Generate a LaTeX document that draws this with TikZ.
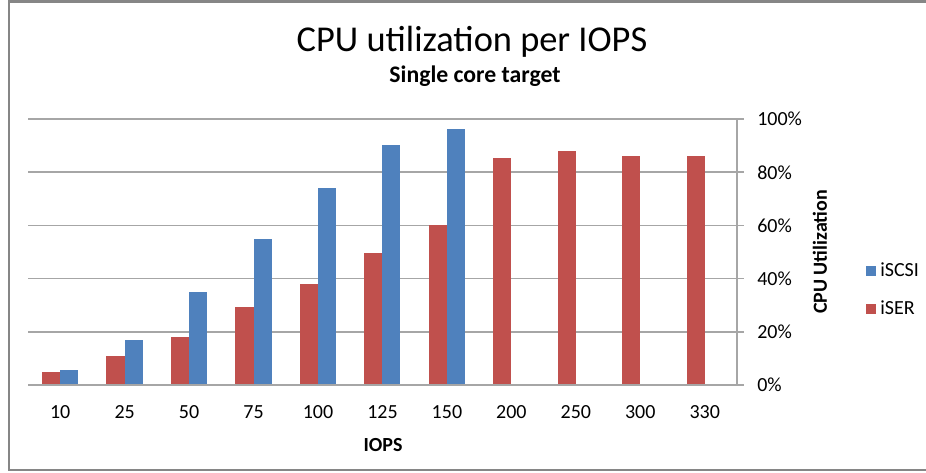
\documentclass[tikz,border=0pt]{standalone}
\usepackage{fontspec}
\setmainfont{Carlito}
\definecolor{iscsi}{HTML}{4F81BD}
\definecolor{iser}{HTML}{C0504D}
\definecolor{gridgray}{HTML}{A6A6A6}
\definecolor{framegray}{HTML}{868686}

\begin{document}
\begin{tikzpicture}[x=0.75pt,y=0.75pt,every node/.style={font=\fontsize{15}{18}\selectfont, inner sep=0pt},
    gridline/.style={gridgray, line width=1.1pt},
    keybox/.style={minimum size=7.5pt}]
    \useasboundingbox (0,0) rectangle (926,472);
    \draw[framegray, line width=1.6pt] (9,2) rectangle (935,470.5);
    % gridlines with the percent ticks on the right
    \foreach \k in {0,...,5} {
        \pgfmathsetmacro{\yy}{87+53.2*\k}
        \draw[gridline] (28,\yy) -- (744,\yy);
        \node[anchor=base west] (yt\k) at (757,\yy-7) {\the\numexpr20*\k\relax\%};
    }
    \draw[gridline] (737,87) -- (737,353);
    % bars: iSER left, iSCSI right
    \foreach \lab/\ser/\scs [count=\i from 0] in {10/4.8/5.8, 25/10.8/16.8, 50/18.2/35.1, 75/29.2/54.9,
        100/37.9/74.2, 125/49.7/90.2, 150/60/96.1, 200/85.2/0, 250/87.8/0, 300/86/0, 330/86/0} {
        \pgfmathsetmacro{\cx}{28+64.45*(\i+0.5)}
        \fill[iser] (\cx-18.2,87) rectangle (\cx,87+2.66*\ser);
        \fill[iscsi] (\cx,87) rectangle (\cx+18,87+2.66*\scs);
        \node[anchor=base] (cat\i) at (\cx,53) {\lab};
    }
    \draw[gridline] (28,87) -- (744,87);
    \node[anchor=base, font=\fontsize{27.3}{32}\selectfont] (title) at (472,420) {CPU utilization per IOPS};
    \node[anchor=base, font=\fontsize{17.8}{21}\selectfont\bfseries] (sub) at (475,389) {Single core target};
    \node[anchor=base, font=\fontsize{15}{18}\selectfont\bfseries] (xlab) at (383,20.3) {IOPS};
    \node[rotate=90, font=\fontsize{15}{18}\selectfont\bfseries] (ylab) at (820,220) {CPU Utilization};
    \node[keybox, fill=iscsi] (key1) at (871,201) {};
    \node[anchor=base west] (leg1) at (880,195.3) {iSCSI};
    \node[keybox, fill=iser] (key2) at (871,163.3) {};
    \node[anchor=base west] (leg2) at (880,157) {iSER};
\end{tikzpicture}
\end{document}
